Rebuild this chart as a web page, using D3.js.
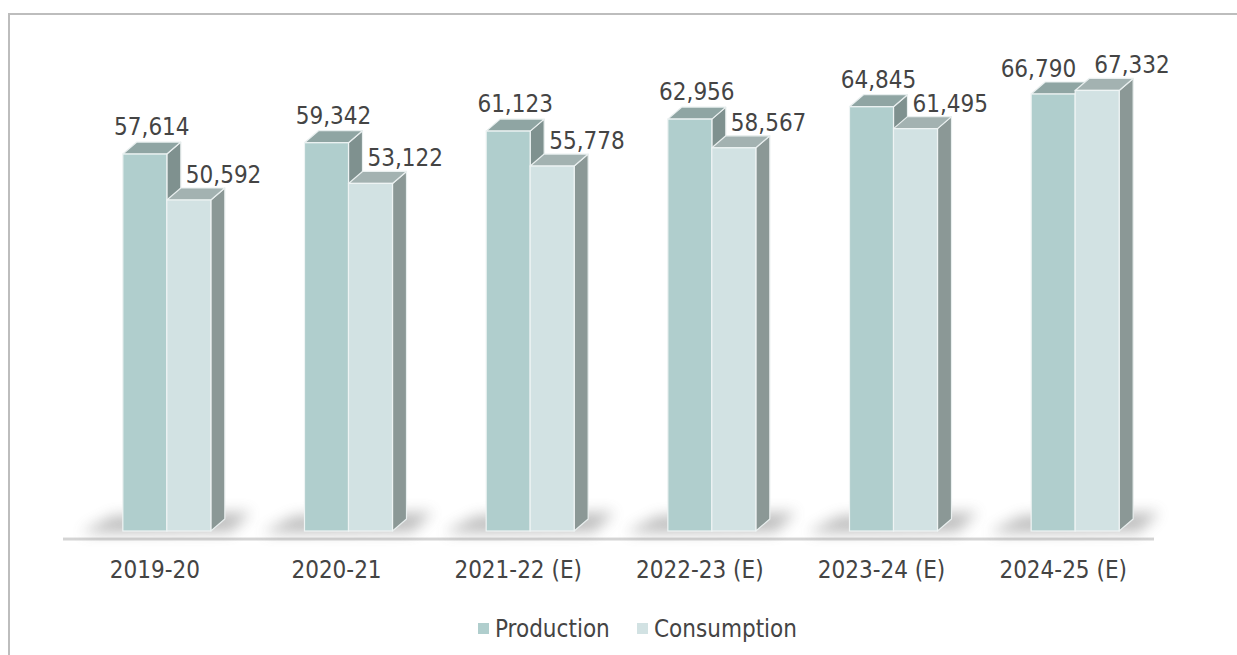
<!DOCTYPE html>
<html><head><meta charset="utf-8">
<script src="https://cdn.jsdelivr.net/npm/d3@7"></script>
<style>
html,body{margin:0;padding:0;background:#fff;}
svg{display:block;}
text{font-family:"DejaVu Sans Condensed","DejaVu Sans",sans-serif;fill:#444;}
</style></head>
<body>
<script>
const categories = ["2019-20","2020-21","2021-22 (E)","2022-23 (E)","2023-24 (E)","2024-25 (E)"];
const production = [57614, 59342, 61123, 62956, 64845, 66790];
const consumption = [50592, 53122, 55778, 58567, 61495, 67332];
const seriesNames = ["Production","Consumption"];

const W = 1237, H = 655;
const svg = d3.select("body").append("svg").attr("width", W).attr("height", H);

const frontColors = ["#b0cecd","#d2e2e3"];
const topColors = ["#8fa5a3","#a3b2b1"];
const sideColors = ["#7f918f","#8b9896"];

const defs = svg.append("defs");
defs.append("filter").attr("id","blur").attr("x","-50%").attr("y","-200%").attr("width","200%").attr("height","500%")
  .append("feGaussianBlur").attr("stdDeviation", 7);

// border
svg.append("path").attr("d","M9,655 L9,14 L1237,14").attr("fill","none").attr("stroke","#bdbdbd").attr("stroke-width",2);

const x = d3.scaleBand().domain(categories).range([64, 1154]).padding(0);
const y = d3.scaleLinear().domain([0, 70000]).range([531, 73]);
const inner = d3.scaleBand().domain(seriesNames).range([-32, 56]).padding(0);
const dx = 14, dy = 12;
const bw = inner.bandwidth();

// floor
svg.append("rect").attr("x",63).attr("y",538).attr("width",1091).attr("height",2.5).attr("fill","#d4d4d4");
svg.append("rect").attr("x",63).attr("y",537).attr("width",1091).attr("height",1).attr("fill","#ececec");

const data = categories.map((c,i)=>({cat:c, vals:[production[i], consumption[i]]}));

// shadows
const g0 = svg.append("g");
data.forEach(d=>{
  const cx = x(d.cat) + x.bandwidth()/2;
  const x0 = cx + inner(seriesNames[0]);
  const x1 = cx + inner(seriesNames[1]) + bw;
  g0.append("polygon")
    .attr("points", [[x0-42,533],[x0-10,516],[x1+dx+26,512],[x1+dx+6,532]].map(p=>p.join(",")).join(" "))
    .attr("fill","#666").attr("opacity",0.42).attr("filter","url(#blur)");
});

const gb = svg.append("g");
data.forEach(d=>{
  const cx = x(d.cat) + x.bandwidth()/2;
  d.vals.forEach((v,s)=>{
    const bx = cx + inner(seriesNames[s]);
    const yt = y(v), yb = y(0);
    const g = gb.append("g");
    g.append("polygon").attr("points",[[bx+bw,yt],[bx+bw+dx,yt-dy],[bx+bw+dx,yb-dy],[bx+bw,yb]].map(p=>p.join(",")).join(" "))
      .attr("fill",sideColors[s]).attr("stroke","#e9efef").attr("stroke-width",1.2).attr("stroke-linejoin","round");
    g.append("polygon").attr("points",[[bx,yt],[bx+dx,yt-dy],[bx+bw+dx,yt-dy],[bx+bw,yt]].map(p=>p.join(",")).join(" "))
      .attr("fill",topColors[s]).attr("stroke","#e9efef").attr("stroke-width",1.2).attr("stroke-linejoin","round");
    g.append("rect").attr("x",bx).attr("y",yt).attr("width",bw).attr("height",yb-yt)
      .attr("fill",frontColors[s]).attr("stroke","#eef4f4").attr("stroke-width",1.2);
  });
});

// data labels
const gl = svg.append("g").style("font-size","24px");
data.forEach(d=>{
  const cx = x(d.cat) + x.bandwidth()/2;
  const [p,c] = d.vals;
  const px = cx + inner(seriesNames[0]);
  const qx = cx + inner(seriesNames[1]);
  if (c >= p) {
    gl.append("text").attr("x", qx + 1).attr("y", y(p) - dy - 5).attr("text-anchor","end").text(d3.format(",")(p));
  } else {
    gl.append("text").attr("x", px + bw/2 + dx/2).attr("y", y(p) - dy - 7).attr("text-anchor","middle").text(d3.format(",")(p));
  }
  gl.append("text").attr("x", qx + 19).attr("y", y(c) - dy - 5).attr("text-anchor","start").text(d3.format(",")(c));
});

// category axis labels
const axis = d3.axisBottom(x).tickSize(0).tickPadding(0);
const ga = svg.append("g").attr("transform","translate(0,578)").call(axis);
ga.select(".domain").remove();
ga.selectAll("text").attr("dy",0).style("font-size","24px").style("font-family",'"DejaVu Sans Condensed","DejaVu Sans",sans-serif').attr("fill","#444");

// legend
const legend = svg.append("g");
const legendX = [478, 637];
seriesNames.forEach((n,i)=>{
  legend.append("rect").attr("x",legendX[i]).attr("y",623).attr("width",11).attr("height",11).attr("fill",frontColors[i]);
  legend.append("text").attr("x",legendX[i]+17).attr("y",637).style("font-size","24px").text(n);
});
</script>
</body></html>
